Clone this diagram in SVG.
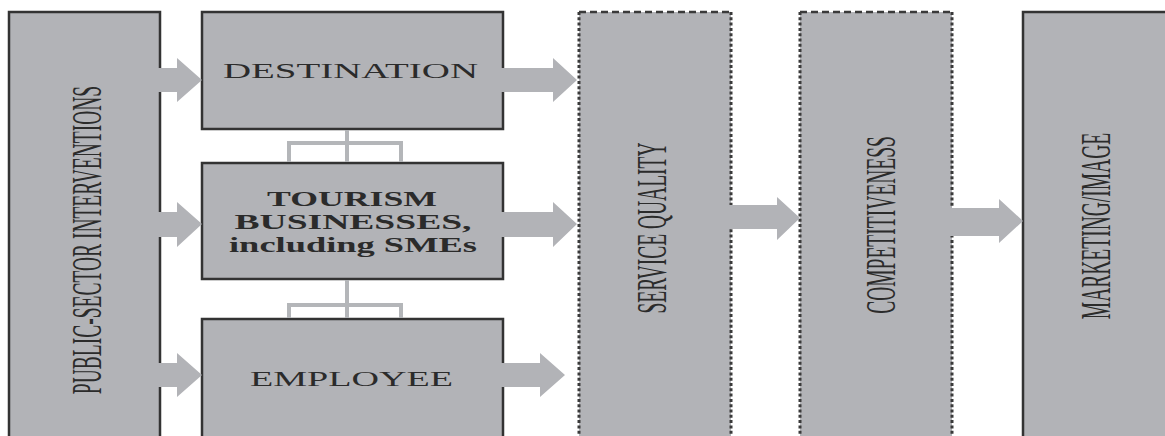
<svg xmlns="http://www.w3.org/2000/svg" width="1165" height="436" viewBox="0 0 1165 436">
  <defs>
    <style>
      .box { fill: #b2b3b7; stroke: #333; stroke-width: 2.5; }
      .fill { fill: #b2b3b7; }
      .dotside { fill: none; stroke: #3a3a3a; stroke-width: 3; stroke-dasharray: 3 2.3; }
      .dashtop { fill: none; stroke: #3a3a3a; stroke-width: 2.5; stroke-dasharray: 7 4; }
      .arrow { fill: #b2b3b7; }
      .link { fill: none; stroke: #b4b6b9; stroke-width: 4; }
      .vlabel { font-family: "Liberation Serif", "Times New Roman", serif; font-size: 19.5px; fill: #2b2b2b; }
      .hlabel { font-family: "Liberation Serif", "Times New Roman", serif; font-size: 22px; fill: #2b2b2b; }
      .hbold { font-family: "Liberation Serif", "Times New Roman", serif; font-size: 21px; font-weight: bold; fill: #2b2b2b; }
    </style>
  </defs>

  <rect width="1165" height="436" fill="#fff"/>

  <!-- Public-sector interventions (tall, narrow lettering: stretched across the line) -->
  <g id="public-sector">
    <rect class="box" x="9" y="12" width="151" height="440"/>
    <text class="vlabel" transform="translate(101,240) rotate(-90) scale(1,2.15)" text-anchor="middle">PUBLIC-SECTOR INTERVENTIONS</text>
  </g>

  <!-- Destination -->
  <g id="destination">
    <rect class="box" x="202" y="12" width="301" height="117"/>
    <text class="hlabel" x="223" y="78" textLength="255" lengthAdjust="spacingAndGlyphs">DESTINATION</text>
  </g>

  <!-- Tourism businesses -->
  <g id="tourism-businesses">
    <rect class="box" x="202" y="163" width="301" height="116"/>
    <text class="hbold" x="352" y="206" text-anchor="middle" textLength="170" lengthAdjust="spacingAndGlyphs">TOURISM</text>
    <text class="hbold" x="353" y="229" text-anchor="middle" textLength="237" lengthAdjust="spacingAndGlyphs">BUSINESSES,</text>
    <text class="hbold" x="353" y="252" text-anchor="middle" textLength="248" lengthAdjust="spacingAndGlyphs">including SMEs</text>
  </g>

  <!-- Employee -->
  <g id="employee">
    <rect class="box" x="202" y="319" width="301" height="140"/>
    <text class="hlabel" x="250" y="386" textLength="203" lengthAdjust="spacingAndGlyphs">EMPLOYEE</text>
  </g>

  <!-- Service quality -->
  <g id="service-quality">
    <rect class="fill" x="579" y="12" width="152" height="440"/>
    <line class="dashtop" x1="579" y1="12" x2="731" y2="12"/>
    <line class="dotside" x1="579" y1="12" x2="579" y2="436"/>
    <line class="dotside" x1="731" y1="12" x2="731" y2="436"/>
    <text class="vlabel" transform="translate(666,228) rotate(-90) scale(1,2.15)" text-anchor="middle">SERVICE QUALITY</text>
  </g>

  <!-- Competitiveness -->
  <g id="competitiveness">
    <rect class="fill" x="800" y="12" width="152" height="440"/>
    <line class="dashtop" x1="800" y1="12" x2="952" y2="12"/>
    <line class="dotside" x1="800" y1="12" x2="800" y2="436"/>
    <line class="dotside" x1="952" y1="12" x2="952" y2="436"/>
    <text class="vlabel" transform="translate(895,225) rotate(-90) scale(1,2.15)" text-anchor="middle">COMPETITIVENESS</text>
  </g>

  <!-- Marketing / image -->
  <g id="marketing-image">
    <rect class="box" x="1023" y="12" width="160" height="440"/>
    <text class="vlabel" transform="translate(1110,226) rotate(-90) scale(1,2.15)" text-anchor="middle">MARKETING/IMAGE</text>
  </g>

  <!-- Connectors -->
  <g id="connectors">
    <!-- block arrows -->
    <polygon class="arrow" points="158,68 177,68 177,58 202,80 177,102 177,92 158,92"/>
    <polygon class="arrow" points="158,212 177,212 177,202 202,224 177,247 177,237 158,237"/>
    <polygon class="arrow" points="158,363 177,363 177,353 202,375 177,397 177,387 158,387"/>

    <polygon class="arrow" points="501,68 553,68 553,58 577,80 553,102 553,92 501,92"/>
    <polygon class="arrow" points="501,212 553,212 553,202 577,224 553,247 553,237 501,237"/>
    <polygon class="arrow" points="501,363 540,363 540,353 565,375 540,397 540,387 501,387"/>

    <polygon class="arrow" points="729,205 777,205 777,197 800,218 777,240 777,229 729,229"/>
    <polygon class="arrow" points="950,208 999,208 999,199 1023,221 999,243 999,236 950,236"/>

    <!-- bracket links between the middle boxes -->
    <path class="link" d="M347,130 V162 M289,162 V143 H401 V162"/>
    <path class="link" d="M347,280 V318 M289,318 V305 H401 V318"/>
  </g>
</svg>
